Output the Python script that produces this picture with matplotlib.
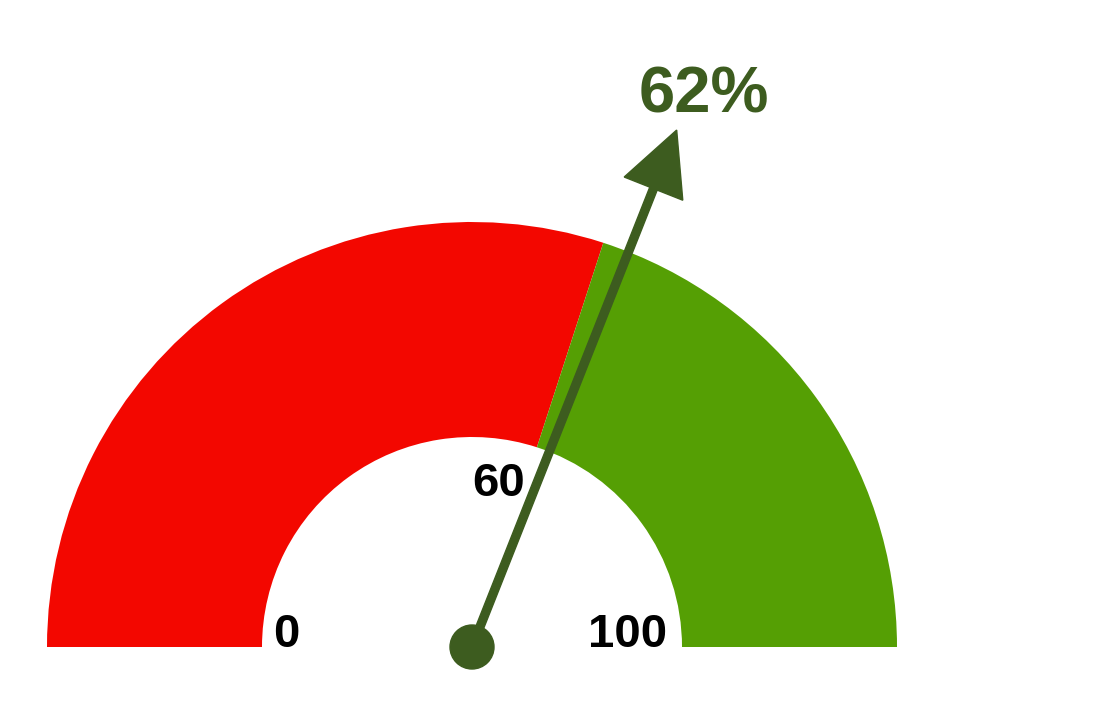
import numpy as np
import matplotlib.pyplot as plt
from matplotlib.patches import Wedge, Circle, FancyArrow

# Gauge data
gauge_min = 0
gauge_max = 100
threshold = 60
value = 62
band_ranges = [(0, 60), (60, 100)]
band_colors = ["#f30700", "#559f04"]
tick_labels = ["0", "60", "100"]
value_label = f"{value}%"

needle_color = "#3d5c1f"

plt.rcParams["font.family"] = ["Liberation Sans", "DejaVu Sans"]

fig = plt.figure(figsize=(11.14, 7.18), dpi=100)
ax = fig.add_axes([0, 0, 1, 1])
ax.set_xlim(0, 1114)
ax.set_ylim(0, 718)
ax.set_aspect("equal")
ax.axis("off")

# geometry in pixel-like units
cx, cy = 472, 71
r_out, r_in = 425, 210


def val_to_angle(v):
    return 180 - 180 * (v - gauge_min) / (gauge_max - gauge_min)


# Bands
for (lo, hi), col in zip(band_ranges, band_colors):
    ax.add_patch(Wedge((cx, cy), r_out, val_to_angle(hi), val_to_angle(lo),
                       width=r_out - r_in, facecolor=col, edgecolor="none"))

# Tick labels
a0 = np.radians(val_to_angle(gauge_min))
ax.text(cx + r_in * np.cos(a0) + 11, cy, tick_labels[0], fontsize=34,
        fontweight="bold", ha="left", va="baseline", color="black")
a1 = np.radians(val_to_angle(gauge_max))
ax.text(cx + r_in * np.cos(a1) - 15, cy, tick_labels[2], fontsize=34,
        fontweight="bold", ha="right", va="baseline", color="black")
at = np.radians(val_to_angle(threshold))
ax.text(cx + r_in * np.cos(at) - 12, cy + r_in * np.sin(at) - 15, tick_labels[1],
        fontsize=34, fontweight="bold", ha="right", va="top", color="black")

# Needle
av = np.radians(val_to_angle(value))
needle_len = 556
ax.add_patch(FancyArrow(cx, cy, needle_len * np.cos(av), needle_len * np.sin(av),
                        width=8, head_width=63, head_length=63,
                        length_includes_head=True, color=needle_color, zorder=5))
ax.add_patch(Circle((cx, cy), 22, color=needle_color, zorder=6))

tip_x = cx + needle_len * np.cos(av)
tip_y = cy + needle_len * np.sin(av)
ax.text(tip_x + 27, tip_y + 18, value_label, fontsize=47, fontweight="bold",
        ha="center", va="baseline", color=needle_color)

fig.savefig("out.png", dpi=100)
